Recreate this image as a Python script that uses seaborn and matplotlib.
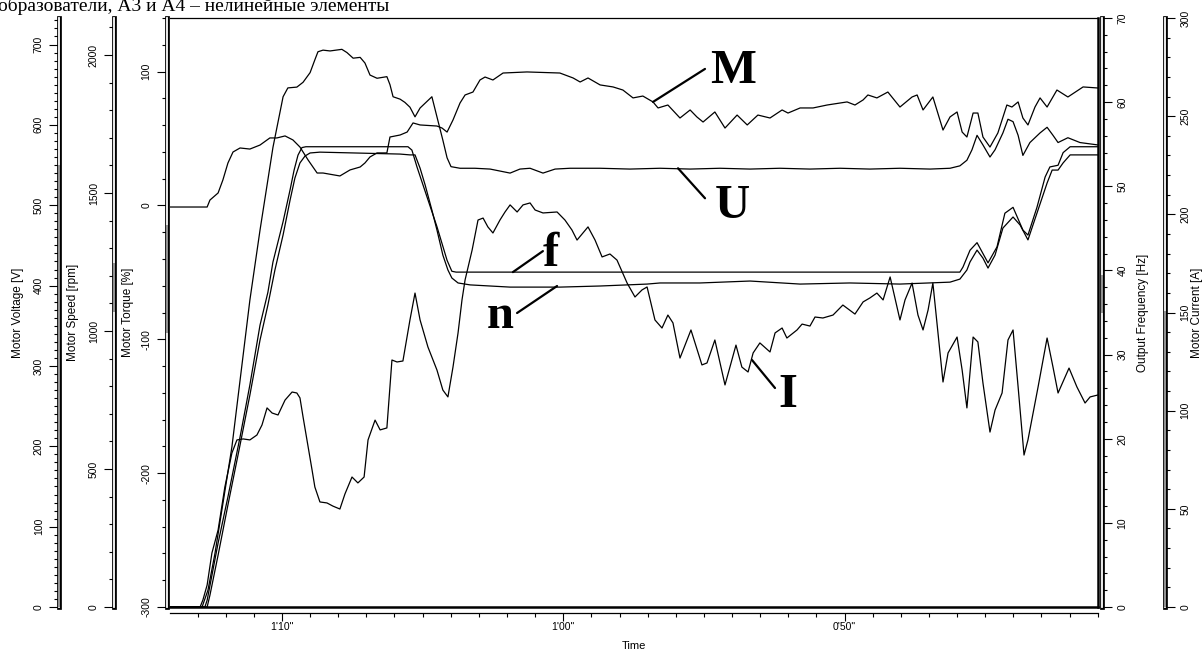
import matplotlib
matplotlib.use("Agg")
import matplotlib.pyplot as plt
import matplotlib.patheffects as pe
import matplotlib.transforms as mtransforms
from matplotlib.ticker import MultipleLocator, FuncFormatter
import pandas as pd
import seaborn as sns

sns.set_theme(style="white")
plt.rcParams['font.family'] = ['Liberation Sans', 'DejaVu Sans']
plt.rcParams['axes.unicode_minus'] = False

# Tempo em segundos (o registrador conta para baixo: 1'14" -> 0'41")
t_m = [73.98, 72.66, 72.56, 72.27, 72.10, 71.92, 71.74, 71.49, 71.14, 70.78,
       70.43, 70.18, 69.89, 69.61, 69.36, 69.07, 68.75, 68.54, 67.94, 67.58,
       67.22, 67.05, 66.87, 66.62, 66.27, 66.16, 65.80, 65.55, 65.34, 65.09,
       64.49, 64.31, 64.13, 63.92, 63.67, 63.49, 63.21, 62.96, 62.78, 62.50,
       62.14, 61.29, 60.12, 59.65, 59.40, 59.12, 58.69, 58.23, 57.88, 57.52,
       57.17, 56.81, 56.63, 56.28, 55.85, 55.49, 55.25, 55.03, 54.61, 54.25,
       53.82, 53.46, 53.08, 52.65, 52.22, 52.01, 51.58, 51.12, 50.62, 49.91,
       49.63, 49.34, 49.17, 48.85, 48.46, 48.03, 47.60, 47.42, 47.21, 46.86,
       46.50, 46.25, 46.00, 45.82, 45.65, 45.43, 45.26, 45.08, 44.83, 44.55,
       44.23, 44.05, 43.83, 43.66, 43.48, 43.23, 43.05, 42.80, 42.45, 42.06,
       41.52, 40.99]
torque = [-1.2, -1.2, 4.0, 9.3, 19.0, 31.7, 39.9, 42.9, 42.1, 45.1,
          50.4, 50.4, 51.9, 48.9, 43.6, 33.9, 24.2, 24.2, 22.0, 26.5,
          28.7, 31.7, 36.2, 39.2, 39.2, 51.1, 52.6, 54.8, 61.6, 60.1,
          59.3, 57.8, 54.8, 63.8, 76.5, 82.5, 84.7, 93.7, 95.9, 93.7,
          98.9, 99.7, 98.9, 95.2, 92.2, 95.2, 90.0, 88.5, 86.2, 80.3,
          81.7, 77.3, 72.8, 75.0, 65.3, 71.3, 66.1, 62.3, 69.8, 57.8,
          67.5, 60.1, 67.5, 65.3, 71.3, 69.0, 72.8, 72.8, 75.0, 77.3,
          75.0, 78.8, 82.5, 80.3, 84.7, 73.5, 81.0, 82.5, 71.3, 81.0,
          56.3, 66.1, 69.8, 54.8, 51.1, 69.0, 69.0, 51.1, 43.6, 54.1,
          75.0, 73.5, 77.3, 65.3, 60.1, 73.5, 80.3, 73.5, 86.2, 81.0,
          88.5, 87.7]

t_u = [73.98, 72.84, 72.63, 72.38, 71.78, 71.14, 70.78, 70.32, 69.96, 69.79,
       69.47, 69.25, 69.00, 68.83, 68.72, 68.54, 68.29, 67.87, 67.69, 67.47,
       67.22, 67.05, 66.87, 66.62, 66.27, 66.16, 66.05, 65.80, 65.63, 65.45,
       65.27, 65.09, 64.91, 64.67, 64.49, 64.28, 64.13, 63.99, 63.67, 63.14,
       62.60, 61.89, 61.54, 61.18, 60.72, 60.29, 59.76, 58.69, 57.63, 56.56,
       55.49, 54.43, 53.36, 52.30, 51.23, 50.16, 49.10, 48.03, 46.96, 46.25,
       45.90, 45.65, 45.47, 45.29, 45.08, 44.83, 44.65, 44.37, 44.19, 44.01,
       43.83, 43.66, 43.41, 43.05, 42.80, 42.59, 42.41, 42.06, 41.63, 40.99]
voltage = [0, 0, 21, 67, 199, 382, 469, 572, 635, 646,
           647, 653, 665, 681, 691, 693, 692, 694, 690, 683,
           684, 677, 662, 658, 660, 650, 635, 632, 628, 622,
           610, 621, 627, 635, 610, 581, 559, 548, 546, 546,
           545, 540, 545, 546, 540, 545, 546, 546, 545, 546,
           545, 546, 545, 546, 545, 546, 545, 546, 545, 546,
           549, 556, 569, 587, 575, 560, 569, 590, 607, 604,
           587, 562, 578, 590, 597, 587, 578, 584, 578, 575]

t_f = [73.98, 72.74, 72.66, 72.27, 71.92, 71.49, 71.14, 70.78, 70.50, 70.32,
       69.96, 69.71, 69.57, 69.43, 69.29, 69.15, 65.52, 65.38, 65.20, 64.84,
       64.49, 64.13, 63.96, 63.81, 45.90, 45.79, 45.54, 45.29, 44.90, 44.58,
       44.30, 44.01, 43.66, 43.48, 43.16, 42.87, 42.70, 42.41, 42.23, 41.98,
       40.99]
freq = [0, 0, 0.8, 7.6, 13.1, 20.2, 26.4, 33.5, 37.4, 41.0,
        45.8, 49.6, 51.9, 53.7, 54.6, 54.7, 54.7, 54.3, 52.3, 48.7,
        45.2, 41.2, 39.9, 39.8, 39.8, 40.4, 42.4, 43.3, 40.9, 42.8,
        46.8, 47.5, 44.8, 44.2, 47.5, 51.1, 52.3, 52.5, 54.0, 54.7,
        54.7]

t_n = [73.98, 72.66, 72.56, 72.27, 71.92, 71.49, 71.14, 70.78, 70.50, 70.25,
       69.96, 69.71, 69.54, 69.36, 69.18, 69.00, 68.65, 65.80, 65.45, 65.27,
       65.09, 64.91, 64.67, 64.49, 64.28, 64.10, 63.96, 63.74, 63.31, 62.60,
       61.89, 60.12, 58.69, 57.73, 57.02, 56.56, 55.14, 53.36, 51.58, 49.81,
       48.03, 46.25, 45.90, 45.65, 45.54, 45.29, 45.08, 44.90, 44.65, 44.37,
       44.01, 43.76, 43.48, 43.16, 42.80, 42.62, 42.41, 42.23, 41.98, 40.99]
speed = [0, 0, 43, 188, 370, 587, 768, 967, 1094, 1221,
         1348, 1475, 1554, 1609, 1634, 1645, 1648, 1641, 1638, 1638,
         1590, 1529, 1438, 1366, 1275, 1221, 1192, 1174, 1167, 1163,
         1159, 1159, 1163, 1167, 1170, 1174, 1174, 1181, 1170, 1174,
         1170, 1177, 1188, 1221, 1250, 1293, 1264, 1228, 1275, 1373,
         1413, 1384, 1330, 1427, 1536, 1583, 1583, 1609, 1638, 1638]

t_i = [73.98, 72.91, 72.81, 72.66, 72.49, 72.27, 72.03, 71.78, 71.60, 71.38,
       71.14, 70.89, 70.71, 70.53, 70.35, 70.14, 69.89, 69.64, 69.47, 69.36,
       69.25, 69.11, 68.93, 68.83, 68.65, 68.40, 68.19, 67.94, 67.76, 67.51,
       67.30, 67.08, 66.94, 66.69, 66.51, 66.27, 66.09, 65.91, 65.70, 65.45,
       65.27, 65.09, 64.81, 64.49, 64.28, 64.10, 63.92, 63.74, 63.60, 63.49,
       63.24, 63.03, 62.85, 62.68, 62.50, 62.25, 62.07, 61.89, 61.64, 61.43,
       61.18, 61.00, 60.72, 60.22, 59.94, 59.69, 59.51, 59.30, 59.12, 58.87,
       58.62, 58.34, 58.09, 57.73, 57.45, 57.20, 57.02, 56.74, 56.49, 56.28,
       56.10, 55.85, 55.46, 55.07, 54.89, 54.61, 54.25, 53.86, 53.65, 53.43,
       53.25, 53.01, 52.65, 52.47, 52.22, 52.05, 51.69, 51.51, 51.23, 51.05,
       50.77, 50.41, 50.06, 49.63, 49.34, 49.10, 48.85, 48.63, 48.38, 48.03,
       47.85, 47.60, 47.39, 47.21, 47.03, 46.86, 46.68, 46.50, 46.32, 46.00,
       45.82, 45.65, 45.43, 45.26, 45.08, 44.83, 44.65, 44.40, 44.19, 44.01,
       43.83, 43.62, 43.48, 43.12, 42.80, 42.59, 42.41, 42.02, 41.74, 41.45,
       41.27, 40.99]
current = [0, 0, 3.6, 11.2, 27.5, 39.2, 61.1, 78.4, 85.1, 85.6,
           85.1, 87.6, 92.7, 101.4, 98.8, 97.8, 105.4, 109.5, 109.0, 106.5,
           96.8, 85.1, 69.8, 61.1, 53.5, 53.0, 51.4, 49.9, 57.6, 66.2,
           63.2, 66.2, 85.1, 95.2, 90.2, 91.2, 125.8, 124.8, 125.3, 146.2,
           159.9, 146.2, 132.4, 120.7, 110.5, 107.0, 122.2, 139.6, 156.4, 166.6,
           181.8, 197.1, 198.1, 193.6, 190.5, 197.1, 201.2, 204.8, 201.2, 204.8,
           205.8, 202.2, 200.7, 201.2, 197.1, 192.0, 186.9, 190.5, 193.6, 186.9,
           178.3, 179.8, 176.7, 165.0, 157.9, 161.5, 163.0, 146.2, 142.1, 148.7,
           144.7, 126.8, 141.1, 123.3, 124.3, 136.0, 113.1, 133.4, 122.2, 119.7,
           129.4, 134.5, 129.9, 139.6, 142.1, 137.0, 141.1, 144.1, 143.1, 147.7,
           147.2, 148.7, 153.8, 149.2, 155.4, 157.4, 159.9, 156.4, 168.1, 146.2,
           156.4, 165.0, 148.7, 141.1, 151.3, 165.0, 139.6, 114.6, 129.4, 137.5,
           120.7, 101.4, 137.5, 135.0, 114.1, 89.1, 100.3, 109.0, 136.0, 141.1,
           112.1, 77.4, 85.1, 112.1, 137.0, 122.2, 109.0, 121.7, 112.1, 103.9,
           107.0, 108.0]

# Escalas
time_lim = (73.98, 40.99)
torque_lim = (-300, 140)
voltage_lim = (0, 733)
speed_lim = (0, 2134)
freq_lim = (0, 70)
current_lim = (0, 300)

# Figura: eixo principal + eixos gêmeos para cada grandeza
fig = plt.figure(figsize=(12.03, 6.57), dpi=100)
ax = fig.add_axes([170 / 1203, 50 / 657, 928 / 1203, 589 / 657])
ax_u = ax.twinx()
ax_n = ax.twinx()
ax_f = ax.twinx()
ax_i = ax.twinx()


def trace(axis, t, v):
    df = pd.DataFrame({'t': t, 'v': v})
    sns.lineplot(data=df, x='t', y='v', ax=axis, color='black', lw=0.9,
                 sort=False, estimator=None, legend=False)


trace(ax, t_m, torque)
trace(ax_u, t_u, voltage)
trace(ax_n, t_n, speed)
trace(ax_f, t_f, freq)
trace(ax_i, t_i, current)

double_line = [pe.Stroke(linewidth=3.4, foreground='black'),
               pe.Stroke(linewidth=1.3, foreground='white')]


def ruler(axis, side, pos, lim, major, minor, title, title_x, band):
    axis.set_ylim(*lim)
    for s in axis.spines.values():
        s.set_visible(False)
    sp = axis.spines[side]
    sp.set_visible(True)
    sp.set_position(('axes', pos))
    sp.set_linewidth(1)
    sp.set_color('black')
    sp.set_path_effects(double_line)
    axis.yaxis.set_ticks_position(side)
    axis.yaxis.set_label_position(side)
    axis.yaxis.set_major_locator(MultipleLocator(major))
    axis.yaxis.set_minor_locator(MultipleLocator(minor))
    axis.tick_params(axis='y', which='major', direction='out', length=7,
                     width=0.8, labelsize=7.5, pad=4, labelrotation=90,
                     color='black', labelcolor='black', **{side: True})
    axis.tick_params(axis='y', which='minor', direction='out', length=3.5,
                     width=0.8, color='black', **{side: True})
    for lab in axis.get_yticklabels():
        lab.set_va('center')
    axis.set_ylabel(title, fontsize=8.5, color='black', va='center', ha='center')
    axis.yaxis.set_label_coords(title_x, 0.5)
    # barra cinza dentro da régua
    tr = mtransforms.blended_transform_factory(axis.transAxes, axis.transData)
    axis.plot([pos, pos], band, transform=tr, color='#8a8a8a', lw=1.3,
              clip_on=False, solid_capstyle='butt', zorder=5)


ruler(ax_u, 'left', -0.1196, voltage_lim, 100, 10, 'Motor Voltage [V]', -0.1638, (0, 550))
ruler(ax_n, 'left', -0.0603, speed_lim, 500, 100, 'Motor Speed [rpm]', -0.1045, (1070, 1245))
ruler(ax, 'left', -0.0035, torque_lim, 100, 20, 'Motor Torque [%]', -0.0453, (-95, -15))
ruler(ax_f, 'right', 1.0043, freq_lim, 10, 2, 'Output Frequency [Hz]', 1.0485, (35, 39.5))
ruler(ax_i, 'right', 1.0722, current_lim, 50, 10, 'Motor Current [A]', 1.1067, (0, 151))

# Moldura do gráfico
ax.spines['top'].set_visible(True)
ax.spines['top'].set_linewidth(0.9)
ax.spines['top'].set_color('black')
ax.spines['right'].set_visible(True)
ax.spines['right'].set_linewidth(1.8)
ax.spines['right'].set_color('black')
ax_u.spines['bottom'].set_visible(True)
ax_u.spines['bottom'].set_linewidth(1.8)
ax_u.spines['bottom'].set_color('black')

# Eixo do tempo
ax.spines['bottom'].set_visible(True)
ax.spines['bottom'].set_position(('outward', 4))
ax.spines['bottom'].set_linewidth(0.9)
ax.spines['bottom'].set_color('black')
ax.xaxis.set_ticks_position('bottom')
ax.xaxis.set_major_locator(MultipleLocator(10))
ax.xaxis.set_minor_locator(MultipleLocator(1))
ax.xaxis.set_major_formatter(
    FuncFormatter(lambda v, p: f"{int(round(v)) // 60}'{int(round(v)) % 60:02d}\""))
ax.tick_params(axis='x', which='major', direction='out', length=5.5, width=0.8,
               labelsize=7.5, pad=1.5, bottom=True, color='black', labelcolor='black')
ax.tick_params(axis='x', which='minor', direction='out', length=3, width=0.8,
               bottom=True, color='black')
ax.set_xlabel('Time', fontsize=8, color='black')
ax.xaxis.set_label_coords(0.5, (607 - 641) / 589)
ax.set_xlim(*time_lim)

# Rótulos das curvas
letter_kw = dict(textcoords='offset pixels', ha='left', va='baseline',
                 fontsize=35, fontweight='bold', family='Liberation Serif',
                 color='black', annotation_clip=False)
line_kw = dict(arrowstyle='-', lw=1.6, color='black', shrinkA=0, shrinkB=0)
labels = [
    (ax, (56.81, 77.3), 'M', (57, 19), (52, 33)),
    (ax_u, (55.92, 546), 'U', (37, -50), (27, -30)),
    (ax_f, (61.79, 39.8), 'f', (30, 6), (30, 21)),
    (ax_n, (60.22, 1163), 'n', (-70, -42), (-40, -27)),
    (ax_i, (53.29, 125.8), 'I', (26, -47), (23, -28)),
]
for axis, xy, txt, txt_off, line_off in labels:
    axis.annotate('', xy=xy, xytext=line_off, textcoords='offset pixels',
                  arrowprops=line_kw, annotation_clip=False)
    axis.annotate(txt, xy=xy, xytext=txt_off, **letter_kw)

# Texto do documento cortado no topo
fig.text(-0.002, 1 - 11 / 657, 'образователи, А3 и А4 – нелинейные элементы',
         fontsize=14, family='Liberation Serif', va='baseline', ha='left', color='black')

fig.savefig('out.png', dpi=100)
